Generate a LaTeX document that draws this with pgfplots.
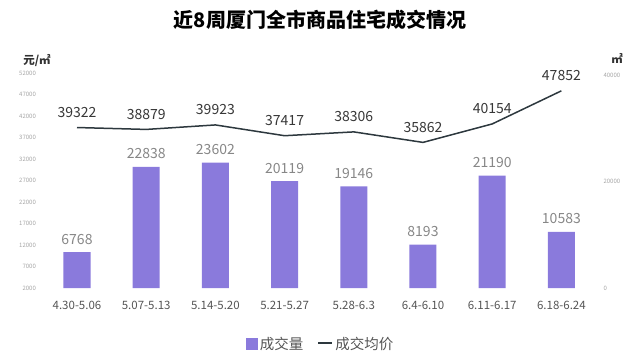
\documentclass[border=0pt]{standalone}
\usepackage{pgfplots}
\pgfplotsset{compat=1.18}
\usepackage{fontspec}
\setmainfont{Noto Sans CJK SC}
\definecolor{barc}{RGB}{138,122,220}
\definecolor{linec}{RGB}{45,56,62}
\definecolor{ticktext}{RGB}{165,165,165}
\definecolor{cattext}{RGB}{85,85,85}
\definecolor{barlab}{RGB}{135,135,135}
\definecolor{linelab}{RGB}{55,55,55}
\pgfplotsset{/pgf/number format/.cd, 1000 sep={}, assume math mode=true}
\begin{document}
\begin{tikzpicture}
\path[use as bounding box] (0pt,0pt) rectangle (640pt,360pt);
\node[font=\fontsize{20}{22}\selectfont\bfseries] at (320pt,340pt) {近8周厦门全市商品住宅成交情况};
\node[font=\fontsize{11.5}{13}\selectfont\bfseries, text=black!80] at (37pt,299pt) {元/㎡};
\node[font=\fontsize{11.5}{13}\selectfont\bfseries, text=black!80] at (617pt,302pt) {㎡};
\begin{axis}[
  at={(42.4pt,72pt)}, anchor=south west, scale only axis,
  width=553.6pt, height=215pt,
  xmin=-0.5, xmax=7.5, ymin=2000, ymax=52000,
  axis line style={draw=none}, major tick length=0pt,
  scaled ticks=false,
  ytick={2000,7000,...,52000},
  yticklabel style={font=\fontsize{6}{7}\selectfont, text=ticktext, xshift=-3pt},
  xtick={0,...,7},
  xticklabels={4.30-5.06,5.07-5.13,5.14-5.20,5.21-5.27,5.28-6.3,6.4-6.10,6.11-6.17,6.18-6.24},
  xticklabel style={font=\fontsize{11.5}{13}\selectfont, text=cattext, yshift=-10pt},
  clip=false,
]
\addplot[linec, line width=1.5pt, mark=none,
  nodes near coords,
  nodes near coords style={anchor=center, yshift=15pt, font=\fontsize{14}{16}\selectfont, text=linelab}]
  coordinates {(0,39322)(1,38879)(2,39923)(3,37417)(4,38306)(5,35862)(6,40154)(7,47852)};
\end{axis}
\begin{axis}[
  at={(42.4pt,72pt)}, anchor=south west, scale only axis,
  width=553.6pt, height=215pt,
  xmin=-0.5, xmax=7.5, ymin=0, ymax=40500,
  axis line style={draw=none}, major tick length=0pt,
  scaled ticks=false,
  axis y line*=right, xtick=\empty,
  ytick={0,20000,40000},
  yticklabel style={font=\fontsize{6}{7}\selectfont, text=ticktext, xshift=4pt},
  clip=false,
  legend style={at={(0.503,-0.26)}, anchor=center, draw=none, fill=none,
    legend columns=2, font=\fontsize{14.5}{16}\selectfont, text=cattext,
    /tikz/every even column/.append style={column sep=12pt},
    inner sep=0pt},
]
\addplot[ybar, bar width=27pt, fill=barc, draw=none, forget plot,
  nodes near coords,
  nodes near coords style={anchor=center, yshift=13pt, font=\fontsize{14}{16}\selectfont, text=barlab}]
  coordinates {(0,6768)(1,22838)(2,23602)(3,20119)(4,19146)(5,8193)(6,21190)(7,10583)};
\addlegendimage{legend image code/.code={\fill[barc] (0pt,-5pt) rectangle (11pt,6pt);}}
\addlegendentry{成交量}
\addlegendimage{legend image code/.code={\draw[linec,line width=2pt] (0pt,0.5pt) -- (14pt,0.5pt);}}
\addlegendentry{成交均价}
\end{axis}
\end{tikzpicture}
\end{document}
